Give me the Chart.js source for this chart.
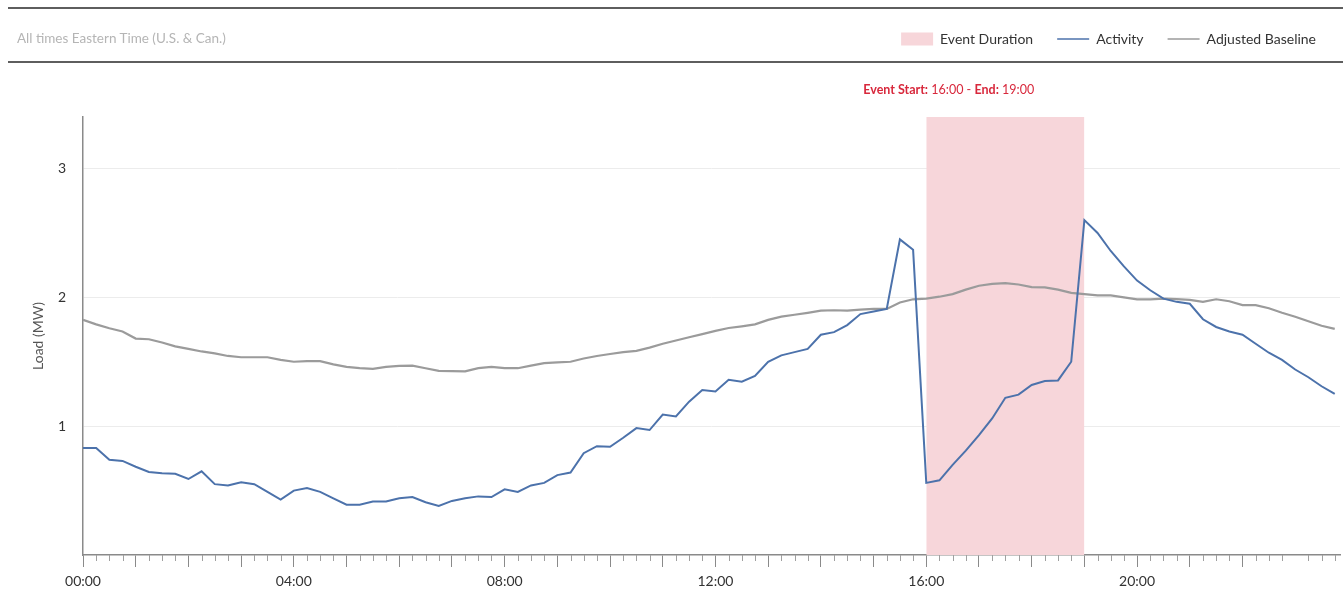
<!DOCTYPE html>
<html>
<head>
<meta charset="utf-8">
<script src="https://cdn.jsdelivr.net/npm/chart.js@4.4.0/dist/chart.umd.min.js"></script>
<style>
  html, body { margin: 0; padding: 0; background: #fff; }
  #wrap { position: relative; width: 1343px; height: 601px; }
  #myChart { position: absolute; left: 0; top: 0; }
  .rule { position: absolute; left: 8px; right: 0; height: 2px; background: #5e5e5e; }
  #tz { position: absolute; left: 17px; top: 30px; font: 13.5px Lato, sans-serif; color: #b5b5b5; }
</style>
</head>
<body>
<div id="wrap">
  <canvas id="myChart" width="1343" height="601"></canvas>
  <div class="rule" style="top:7px"></div>
  <div id="tz">All times Eastern Time (U.S. &amp; Can.)</div>
  <div class="rule" style="top:61px"></div>
</div>
<script>
// load in MW, one value every 15 minutes from 00:00
const activity = [0.83, 0.83, 0.74, 0.73, 0.685, 0.645, 0.635, 0.63, 0.59, 0.65,
  0.55, 0.54, 0.565, 0.55, 0.49, 0.43, 0.50, 0.52, 0.49, 0.44,
  0.39, 0.39, 0.415, 0.415, 0.44, 0.45, 0.41, 0.38, 0.42, 0.44,
  0.455, 0.45, 0.51, 0.49, 0.54, 0.56, 0.62, 0.64, 0.79, 0.845,
  0.84, 0.91, 0.985, 0.97, 1.09, 1.075, 1.19, 1.28, 1.27, 1.36,
  1.345, 1.39, 1.50, 1.55, 1.575, 1.60, 1.71, 1.73, 1.785, 1.87,
  1.89, 1.91, 2.45, 2.37, 0.56, 0.58, 0.70, 0.81, 0.93, 1.06,
  1.22, 1.245, 1.32, 1.35, 1.355, 1.50, 2.60, 2.50, 2.36, 2.24,
  2.13, 2.055, 1.99, 1.965, 1.95, 1.83, 1.77, 1.735, 1.71, 1.64,
  1.57, 1.515, 1.44, 1.38, 1.31, 1.25];
const baseline = [1.825, 1.79, 1.76, 1.735, 1.68, 1.675, 1.65, 1.62, 1.60, 1.58,
  1.565, 1.545, 1.535, 1.535, 1.535, 1.515, 1.50, 1.505, 1.505, 1.48,
  1.46, 1.45, 1.445, 1.46, 1.468, 1.47, 1.45, 1.43, 1.428, 1.425,
  1.45, 1.46, 1.45, 1.45, 1.47, 1.49, 1.495, 1.50, 1.525, 1.545,
  1.56, 1.575, 1.585, 1.61, 1.64, 1.665, 1.69, 1.715, 1.74, 1.762,
  1.775, 1.79, 1.825, 1.85, 1.865, 1.88, 1.897, 1.90, 1.897, 1.905,
  1.91, 1.91, 1.96, 1.985, 1.99, 2.005, 2.025, 2.06, 2.09, 2.105,
  2.11, 2.10, 2.08, 2.077, 2.06, 2.035, 2.025, 2.015, 2.015, 2.0,
  1.985, 1.985, 1.99, 1.987, 1.98, 1.965, 1.985, 1.97, 1.94, 1.94,
  1.915, 1.88, 1.85, 1.815, 1.78, 1.755];
const times = activity.map((v, i) => i * 0.25); // hours
const tickLabels = ['00:00', '04:00', '08:00', '12:00', '16:00', '20:00'];
const yTicks = [1, 2, 3];
const eventStart = 16;
const eventEnd = 19;
const yMax = 3.4;

const hhmm = h => String(h).padStart(2, '0') + ':00';

// push the plot area down below the header band
const legendSpace = {
  id: 'legendSpace',
  beforeInit(chart) {
    const fit = chart.legend.fit;
    chart.legend.fit = function () {
      fit.call(this);
      this.height = 109;
    };
  }
};

// small 15-minute ticks and the event caption
const extras = {
  id: 'extras',
  afterDraw(chart) {
    const { ctx } = chart;
    const x = chart.scales.x;
    ctx.save();
    ctx.strokeStyle = '#a0a0a0';
    ctx.lineWidth = 1;
    for (const t of times) {
      if (Number.isInteger(t)) continue;
      const px = Math.round(x.getPixelForValue(t)) + 0.5;
      ctx.beginPath();
      ctx.moveTo(px, x.top);
      ctx.lineTo(px, x.top + 6);
      ctx.stroke();
    }

    const parts = [
      ['Event Start:', true], [' ' + hhmm(eventStart) + ' - ', false],
      ['End:', true], [' ' + hhmm(eventEnd), false]
    ];
    let cx = x.getPixelForValue(eventStart) - 63;
    ctx.fillStyle = '#d8283c';
    ctx.textBaseline = 'middle';
    ctx.textAlign = 'left';
    for (const [txt, bold] of parts) {
      ctx.font = (bold ? 'bold ' : '') + '12.5px Lato';
      ctx.fillText(txt, cx, 90);
      cx += ctx.measureText(txt).width;
    }
    ctx.restore();
  }
};

const ctx = document.getElementById('myChart');

new Chart(ctx, {
  type: 'line',
  data: {
    datasets: [{
      label: 'Event Duration',
      data: [{ x: eventStart, y: yMax }, { x: eventEnd, y: yMax }],
      backgroundColor: '#f7d6da',
      borderColor: '#f7d6da',
      borderWidth: 0,
      fill: 'origin',
      pointRadius: 0,
      pointStyle: 'rect'
    }, {
      label: 'Activity',
      data: times.map((t, i) => ({ x: t, y: activity[i] })),
      borderColor: '#4c72ab',
      backgroundColor: '#4c72ab',
      borderWidth: 2,
      pointRadius: 0,
      pointBorderWidth: 1.5,
      pointStyle: 'line'
    }, {
      label: 'Adjusted Baseline',
      data: times.map((t, i) => ({ x: t, y: baseline[i] })),
      borderColor: '#9b9b9b',
      backgroundColor: '#9b9b9b',
      borderWidth: 2.2,
      pointRadius: 0,
      pointBorderWidth: 1.5,
      pointStyle: 'line'
    }]
  },
  options: {
    responsive: false,
    animation: false,
    layout: { padding: { top: 8, right: 3, bottom: 0, left: 0 } },
    plugins: {
      filler: { drawTime: 'beforeDatasetsDraw' },
      tooltip: { enabled: false },
      legend: {
        position: 'top',
        align: 'end',
        labels: {
          usePointStyle: true,
          pointStyleWidth: 32,
          boxHeight: 13,
          padding: 24,
          color: '#333',
          font: { family: 'Lato', size: 14 }
        }
      }
    },
    scales: {
      x: {
        type: 'linear',
        min: 0,
        max: 23.85,
        afterBuildTicks: s => { s.ticks = s.ticks.filter(t => Number.isInteger(t.value)); },
        afterFit: s => { s.height = 46; },
        ticks: {
          stepSize: 1,
          autoSkip: false,
          maxRotation: 0,
          padding: 6,
          color: '#333',
          font: { family: 'Lato', size: 14 },
          callback: v => v % 4 === 0 ? tickLabels[v / 4] : ''
        },
        grid: { drawOnChartArea: false, tickLength: 12, color: '#8a8a8a' },
        border: { color: '#8a8a8a', width: 1.5 }
      },
      y: {
        min: 0,
        max: yMax,
        afterBuildTicks: s => { s.ticks = s.ticks.filter(t => yTicks.includes(t.value)); },
        afterFit: s => { s.width = 83; },
        ticks: {
          stepSize: 1,
          padding: 17,
          color: '#333',
          font: { family: 'Lato', size: 14 }
        },
        grid: { drawTicks: false, color: '#ececec' },
        border: { color: '#8a8a8a', width: 1.5 },
        title: {
          display: true,
          text: 'Load (MW)',
          color: '#555',
          font: { family: 'Lato', size: 14 },
          padding: { top: 30, bottom: 0 }
        }
      }
    }
  },
  plugins: [legendSpace, extras]
});
</script>
</body>
</html>
